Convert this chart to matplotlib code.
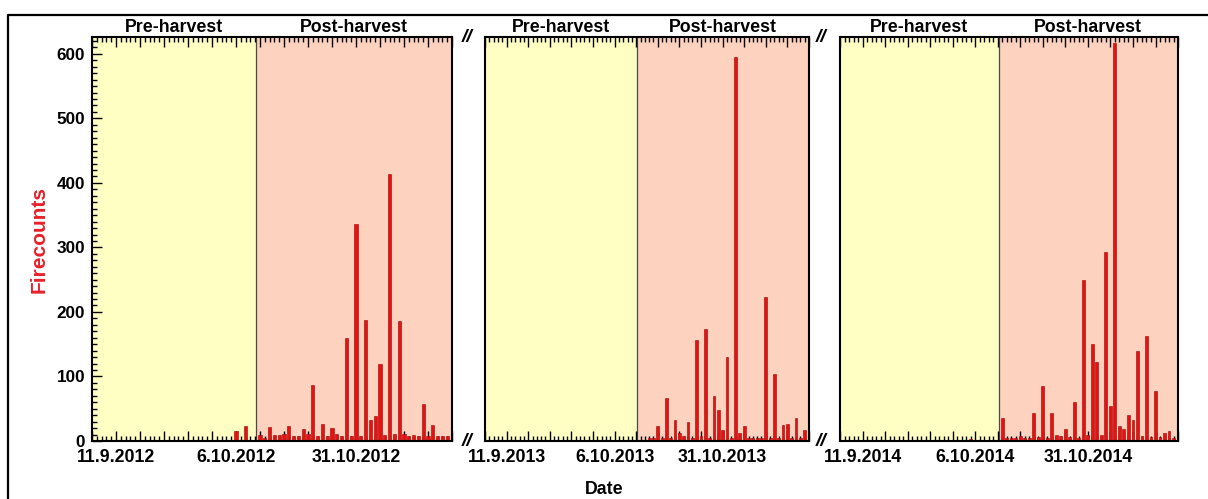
import matplotlib
matplotlib.use('Agg')
import matplotlib.pyplot as plt
from matplotlib.lines import Line2D
from matplotlib.ticker import FixedLocator, FixedFormatter, MultipleLocator

plt.rcParams['font.family'] = ['Liberation Sans', 'DejaVu Sans']
plt.rcParams['font.weight'] = 'bold'

# x values are days counted from 1 September of each year
# (11.9 = 10, 6.10 = 35, 31.10 = 60)
days_2012 = [35, 37, 40, 41, 42, 43, 44, 45, 46, 47, 48, 49, 50, 51, 52, 53, 54, 55, 56, 57,
             58, 59, 60, 61, 62, 63, 64, 65, 66, 67, 68, 69, 70, 71, 72, 73, 74, 75, 76, 77, 78, 79]
fires_2012 = [15, 23, 10, 5, 21, 9, 9, 11, 24, 7, 7, 18, 11, 87, 7, 26, 7, 20, 11, 7,
              159, 7, 336, 8, 187, 33, 39, 119, 9, 414, 11, 186, 11, 7, 9, 7, 57, 7, 25, 7, 7, 7]

days_2013 = [43, 44, 45, 46, 47, 48, 49, 50, 51, 52, 53, 54, 55, 56, 57, 58, 59, 60, 61, 62,
             63, 64, 65, 66, 67, 68, 69, 70, 71, 72, 73, 74, 75, 76, 77, 78, 79]
fires_2013 = [4, 5, 24, 5, 67, 5, 33, 12, 8, 29, 5, 157, 8, 173, 5, 70, 48, 17, 130, 5,
              595, 13, 24, 4, 4, 4, 5, 223, 5, 104, 5, 25, 26, 5, 36, 5, 17]

days_2014 = [34, 41, 42, 43, 44, 45, 46, 47, 48, 49, 50, 51, 52, 53, 54, 55, 56, 57, 58, 59,
             60, 61, 62, 63, 64, 65, 66, 67, 68, 69, 70, 71, 72, 73, 74, 75, 76, 77, 78, 79]
fires_2014 = [3, 36, 4, 5, 5, 8, 5, 5, 44, 6, 85, 5, 44, 10, 8, 18, 6, 60, 5, 249,
              10, 151, 123, 10, 293, 54, 617, 24, 19, 40, 33, 139, 8, 162, 6, 78, 6, 12, 16, 5]

harvest_start = [39.2, 40.1, 40.2]
years = ['2012', '2013', '2014']
label_days = [10, 35, 60]
label_dates = ['11.9.', '6.10.', '31.10.']

x_start, x_end = 5, 80
y_max = 626

pre_color = '#FFFFC4'
post_color = '#FDD2BE'
bar_color = '#E61212'

fig = plt.figure(figsize=(12.08, 4.99), dpi=100)

# panel positions in figure fractions
lefts = [0.0762, 0.4015, 0.6954]
widths = [0.2980, 0.2682, 0.2798]
bottom, height = 0.1162, 0.8096

all_days = [days_2012, days_2013, days_2014]
all_fires = [fires_2012, fires_2013, fires_2014]

for i in range(3):
    ax = fig.add_axes([lefts[i], bottom, widths[i], height])
    ax.axvspan(x_start, harvest_start[i], color=pre_color, zorder=0, lw=0)
    ax.axvspan(harvest_start[i], x_end, color=post_color, zorder=0, lw=0)
    ax.axvline(harvest_start[i], color='#4a4a4a', lw=0.9, zorder=1)
    ax.bar(all_days[i], all_fires[i], width=0.65, color=bar_color,
           edgecolor='#A00000', linewidth=0.4, zorder=2)
    ax.set_xlim(x_start, x_end)
    ax.set_ylim(0, y_max)

    ax.xaxis.set_major_locator(FixedLocator(list(range(5, 81, 5))))
    labels = []
    for d in range(5, 81, 5):
        if d in label_days:
            labels.append(label_dates[label_days.index(d)] + years[i])
        else:
            labels.append('')
    ax.xaxis.set_major_formatter(FixedFormatter(labels))
    ax.xaxis.set_minor_locator(MultipleLocator(1))
    ax.tick_params(axis='x', which='both', direction='in', top=True, bottom=True,
                   labelsize=12.8, pad=6, width=1, zorder=3)
    ax.tick_params(axis='x', which='major', length=7)
    ax.tick_params(axis='x', which='minor', length=3.5)

    if i == 0:
        ax.yaxis.set_major_locator(MultipleLocator(100))
        ax.yaxis.set_minor_locator(MultipleLocator(10))
        ax.tick_params(axis='y', which='both', direction='in', left=True, right=False,
                       labelsize=12.3, pad=5, width=1)
        ax.tick_params(axis='y', which='major', length=7)
        ax.tick_params(axis='y', which='minor', length=3.5)
        ax.set_ylabel('Firecounts', color='#E8202A', fontsize=15, fontweight='bold', labelpad=6)
    else:
        ax.set_yticks([])
        # axis break marks
        ax.text(-0.055, 1.0, '//', transform=ax.transAxes, fontsize=14, fontweight='bold',
                ha='center', va='center', style='italic')
        ax.text(-0.055, 0.0, '//', transform=ax.transAxes, fontsize=14, fontweight='bold',
                ha='center', va='center', style='italic')

    for s in ax.spines.values():
        s.set_linewidth(1.5)
        s.set_zorder(4)

    ax.text((x_start + harvest_start[i]) / 2, y_max + 1, 'Pre-harvest', fontsize=12.8,
            fontweight='bold', ha='center', va='bottom')
    ax.text((harvest_start[i] + x_end) / 2, y_max + 1, 'Post-harvest', fontsize=12.8,
            fontweight='bold', ha='center', va='bottom')

fig.text(0.5, 0.02, 'Date', fontsize=12.8, fontweight='bold', ha='center', va='center')

# outer frame (top and left edges)
fig.add_artist(Line2D([0.0066, 0.0066, 1.0], [0.0, 0.97, 0.97], color='black', lw=1.6,
                      transform=fig.transFigure))

fig.savefig('out.png', dpi=100)
